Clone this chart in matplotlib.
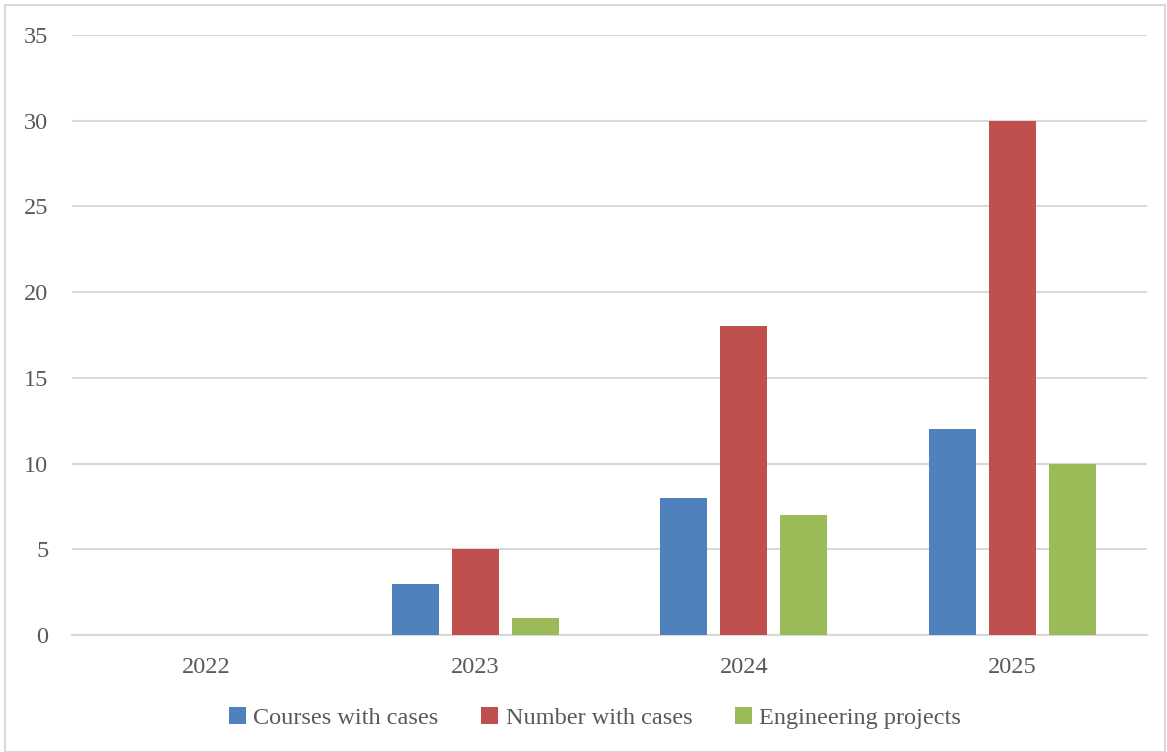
import matplotlib.pyplot as plt
import numpy as np
from matplotlib.patches import Rectangle

years = ["2022", "2023", "2024", "2025"]
courses = [0, 3, 8, 12]
numbers = [0, 5, 18, 30]
projects = [0, 1, 7, 10]
series_names = ["Courses with cases", "Number with cases", "Engineering projects"]
colors = ["#4F81BD", "#C0504D", "#9BBB59"]

plt.rcParams['font.family'] = ['Liberation Serif', 'DejaVu Serif']

fig = plt.figure(figsize=(11.67, 7.52), dpi=100)
ax = fig.add_axes([72 / 1167, 1 - 635 / 752, 1075 / 1167, 600 / 752])

# light border around the whole chart
fig.patches.append(Rectangle((5 / 1167, 0), 1 - 5 / 1167 - 2 / 1167, 1 - 5 / 752,
                             transform=fig.transFigure, fill=False,
                             edgecolor="#d9d9d9", linewidth=1.5))

x = np.arange(len(years))
width = 0.175
step = 0.223
for i, (vals, name, c) in enumerate(zip([courses, numbers, projects], series_names, colors)):
    ax.bar(x + (i - 1) * step, vals, width, color=c, label=name,
           edgecolor="none", zorder=3)

ax.set_xlim(-0.5, 3.5)
ax.set_ylim(0, 35)
ax.set_yticks(range(0, 36, 5))
ax.set_xticks(x)
ax.set_xticklabels(years)
ax.grid(axis="y", color="#d9d9d9", linewidth=1.5, zorder=0)
for s in ["top", "right", "left"]:
    ax.spines[s].set_visible(False)
ax.spines["bottom"].set_color("#d9d9d9")
ax.spines["bottom"].set_linewidth(1.5)
ax.tick_params(length=0, labelsize=17.5, labelcolor="#595959")
ax.tick_params(axis="y", pad=17)
ax.tick_params(axis="x", pad=16)

ax.legend(loc="center", bbox_to_anchor=(595 / 1167, 1 - 718 / 752),
          bbox_transform=fig.transFigure, ncol=3, frameon=False,
          fontsize=17.5, labelcolor="#595959", handlelength=0.7, handleheight=0.7,
          handletextpad=0.3, columnspacing=1.75)

fig.savefig("out.png", dpi=100)
